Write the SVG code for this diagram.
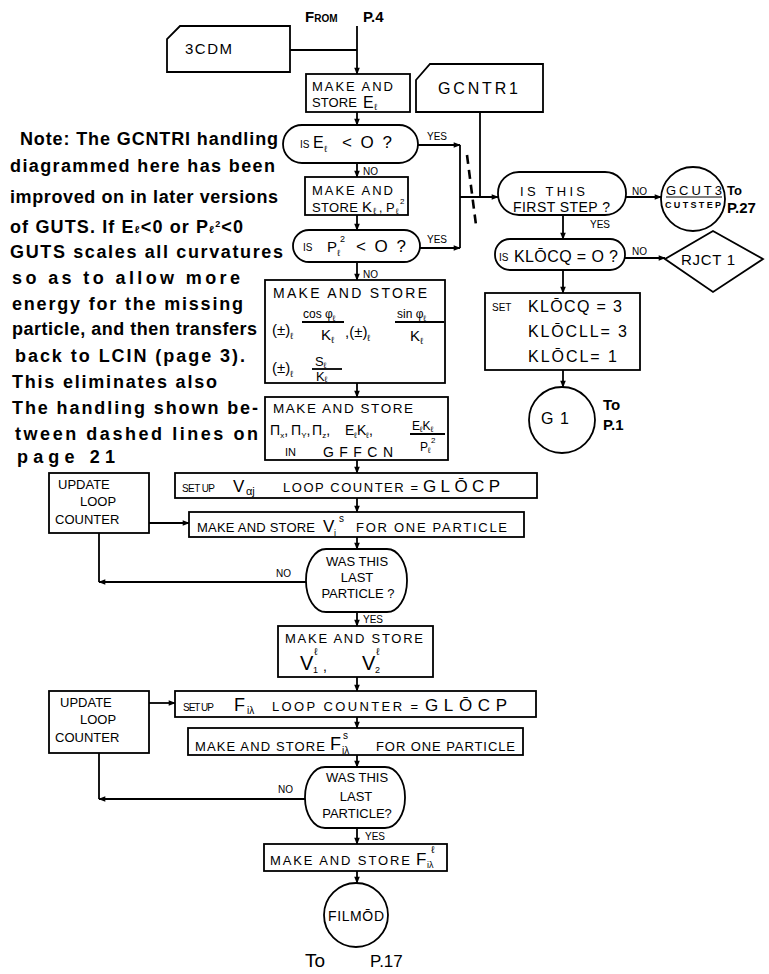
<svg xmlns="http://www.w3.org/2000/svg" width="769" height="974" viewBox="0 0 769 974">
<defs>
<marker id="ah" viewBox="0 0 10 10" refX="9" refY="5" markerWidth="8" markerHeight="7" markerUnits="userSpaceOnUse" orient="auto"><path d="M0,1 L10,5 L0,9 Z" fill="#000"/></marker>
<style>
.ln{fill:none;stroke:#000;stroke-width:1.8}
.bx{fill:#fff;stroke:#000;stroke-width:1.8}
.dash{fill:none;stroke:#000;stroke-width:2.6;stroke-dasharray:9 6}
text{font-family:"Liberation Sans",Arial,sans-serif;fill:#000}
.s{font-size:10px}
.m{font-size:13px}
.note{font-family:"Liberation Sans",Arial,sans-serif;font-weight:bold;font-size:18px}
.lab{font-size:10px}
</style>
</defs>
<rect width="769" height="974" fill="#fff"/>

<g id="connectors">
<line class="ln" x1="357" y1="26" x2="357" y2="74" marker-end="url(#ah)"/>
<line class="ln" x1="290" y1="50" x2="357" y2="50"/>
<line class="ln" x1="357" y1="112" x2="357" y2="125" marker-end="url(#ah)"/>
<line class="ln" x1="357" y1="163" x2="357" y2="177" marker-end="url(#ah)"/>
<line class="ln" x1="357" y1="215" x2="357" y2="230" marker-end="url(#ah)"/>
<line class="ln" x1="357" y1="262" x2="357" y2="280" marker-end="url(#ah)"/>
<line class="ln" x1="357" y1="383" x2="357" y2="397" marker-end="url(#ah)"/>
<line class="ln" x1="357" y1="460" x2="357" y2="473" marker-end="url(#ah)"/>
<line class="ln" x1="357" y1="498" x2="357" y2="512" marker-end="url(#ah)"/>
<line class="ln" x1="357" y1="537" x2="357" y2="549" marker-end="url(#ah)"/>
<line class="ln" x1="149" y1="523" x2="189" y2="523" marker-end="url(#ah)"/>
<line class="ln" x1="306" y1="582" x2="99" y2="582" marker-end="url(#ah)"/>
<line class="ln" x1="99" y1="582" x2="99" y2="533"/>
<line class="ln" x1="357" y1="612" x2="357" y2="626" marker-end="url(#ah)"/>
<line class="ln" x1="357" y1="677" x2="357" y2="691" marker-end="url(#ah)"/>
<line class="ln" x1="149" y1="703" x2="175" y2="703" marker-end="url(#ah)"/>
<line class="ln" x1="357" y1="717" x2="357" y2="728" marker-end="url(#ah)"/>
<line class="ln" x1="357" y1="755" x2="357" y2="767" marker-end="url(#ah)"/>
<line class="ln" x1="305" y1="799" x2="99" y2="799" marker-end="url(#ah)"/>
<line class="ln" x1="99" y1="799" x2="99" y2="753"/>
<line class="ln" x1="357" y1="828" x2="357" y2="844" marker-end="url(#ah)"/>
<line class="ln" x1="357" y1="871" x2="357" y2="883" marker-end="url(#ah)"/>
<line class="ln" x1="418" y1="145" x2="460" y2="145" marker-end="url(#ah)"/>
<line class="ln" x1="460" y1="145" x2="460" y2="248"/>
<line class="ln" x1="420" y1="248" x2="460" y2="248" marker-end="url(#ah)"/>
<line class="ln" x1="460" y1="197" x2="498" y2="197" marker-end="url(#ah)"/>
<line class="ln" x1="480" y1="112" x2="480" y2="197"/>
<line class="dash" x1="467" y1="155" x2="476" y2="225"/>
<line class="ln" x1="626" y1="197" x2="661" y2="197" marker-end="url(#ah)"/>
<line class="ln" x1="563" y1="215" x2="563" y2="239" marker-end="url(#ah)"/>
<line class="ln" x1="625" y1="258" x2="665" y2="258" marker-end="url(#ah)"/>
<line class="ln" x1="563" y1="270" x2="563" y2="293" marker-end="url(#ah)"/>
<line class="ln" x1="563" y1="370" x2="563" y2="387" marker-end="url(#ah)"/>
<text class="lab" x="363" y="175">NO</text>
<text class="lab" x="363" y="278">NO</text>
<text class="lab" x="427" y="140">YES</text>
<text class="lab" x="427" y="243">YES</text>
<text class="lab" x="632" y="195">NO</text>
<text class="lab" x="590" y="228">YES</text>
<text class="lab" x="632" y="255">NO</text>
<text class="lab" x="276" y="577">NO</text>
<text class="lab" x="363" y="623">YES</text>
<text class="lab" x="278" y="793">NO</text>
<text class="lab" x="365" y="840">YES</text>
</g>

<g id="from-p4">
<text x="305" y="22" font-weight="bold"><tspan font-size="15">F</tspan><tspan font-size="10">ROM</tspan></text>
<text x="363" y="22" font-size="15" font-weight="bold">P.4</text>
</g>

<g id="n-3cdm">
<path class="bx" d="M180,26 H290 V72 H167 V39 Z"/>
<text x="185" y="54" font-size="15" textLength="47">3CDM</text>
</g>

<g id="n-store-e">
<rect class="bx" x="306" y="74" width="104" height="38"/>
<text class="m" x="312" y="91" textLength="81">MAKE AND</text>
<text class="m" x="312" y="107" textLength="45">STORE</text>
<text x="363" y="108" font-size="16">E</text>
<text x="374" y="110" font-size="9">ℓ</text>
</g>

<g id="n-gcntr1">
<path class="bx" d="M430,64 H543 V112 H416 V80 Z"/>
<text x="438" y="94" font-size="16" textLength="80">GCNTR1</text>
</g>

<g id="n-is-e">
<rect class="bx" x="283" y="125" width="135" height="38" rx="19"/>
<text class="s" x="300" y="148">IS</text>
<text x="313" y="148" font-size="16">E</text>
<text x="324" y="152" font-size="9">ℓ</text>
<text x="342" y="148" font-size="17" textLength="50">&lt; O ?</text>
</g>

<g id="n-store-k">
<rect class="bx" x="305" y="177" width="103" height="38"/>
<text class="m" x="312" y="195" textLength="81">MAKE AND</text>
<text class="m" x="312" y="212" textLength="46">STORE</text>
<text x="362" y="212" font-size="15">K</text>
<text x="373" y="214" font-size="9">ℓ</text>
<text x="379" y="212" font-size="12">,</text>
<text x="386" y="212" font-size="13">P</text>
<text x="396" y="214" font-size="8">ℓ</text>
<text x="400" y="204" font-size="8">2</text>
</g>

<g id="n-is-p">
<rect class="bx" x="293" y="230" width="127" height="32" rx="16"/>
<text class="s" x="303" y="251">IS</text>
<text x="327" y="252" font-size="15">P</text>
<text x="337" y="256" font-size="9">ℓ</text>
<text x="340" y="242" font-size="9">2</text>
<text x="356" y="252" font-size="17" textLength="50">&lt; O ?</text>
</g>

<g id="n-store-trig">
<rect class="bx" x="265" y="280" width="180" height="103"/>
<text x="273" y="298" font-size="14" textLength="154">MAKE AND STORE</text>
<text x="272" y="335" font-size="15">(±)</text>
<text x="290" y="339" font-size="9">ℓ</text>
<text x="303" y="318" font-size="12">cos φ<tspan font-size="8" dy="3">ℓ</tspan></text>
<line class="ln" x1="302" y1="322" x2="344" y2="322" stroke-width="1.2"/>
<text x="321" y="340" font-size="15">K<tspan font-size="9" dy="3">ℓ</tspan></text>
<text x="345" y="337" font-size="15">,(±)</text>
<text x="367" y="341" font-size="9">ℓ</text>
<text x="397" y="318" font-size="12">sin φ<tspan font-size="8" dy="3">ℓ</tspan></text>
<line class="ln" x1="395" y1="322" x2="444" y2="322" stroke-width="1.2"/>
<text x="410" y="341" font-size="15">K<tspan font-size="9" dy="3">ℓ</tspan></text>
<text x="272" y="373" font-size="15">(±)</text>
<text x="290" y="377" font-size="9">ℓ</text>
<text x="315" y="366" font-size="13">S<tspan font-size="8" dy="2">ℓ</tspan></text>
<line class="ln" x1="312" y1="369" x2="342" y2="369" stroke-width="1.2"/>
<text x="316" y="381" font-size="13">K<tspan font-size="8" dy="1">ℓ</tspan></text>
</g>

<g id="n-store-pi">
<rect class="bx" x="265" y="397" width="183" height="63"/>
<text x="273" y="413" font-size="13.5" textLength="140">MAKE AND STORE</text>
<text x="270" y="435" font-size="14">Π<tspan font-size="8" dy="3">x</tspan><tspan dy="-3">,</tspan></text>
<text x="291" y="435" font-size="14">Π<tspan font-size="8" dy="3">Y</tspan><tspan dy="-3">,</tspan></text>
<text x="312" y="435" font-size="14">Π<tspan font-size="8" dy="3">z</tspan><tspan dy="-3">,</tspan></text>
<text x="345" y="435" font-size="14">E<tspan font-size="8" dy="3">ℓ</tspan><tspan dy="-3">K</tspan><tspan font-size="8" dy="3">ℓ</tspan><tspan dy="-3">,</tspan></text>
<text x="285" y="456" font-size="11">IN</text>
<text x="323" y="457" font-size="14" textLength="70">GFFCN</text>
<text x="412" y="430" font-size="12">E<tspan font-size="8" dy="2">ℓ</tspan><tspan dy="-2">K</tspan><tspan font-size="8" dy="2">ℓ</tspan></text>
<line class="ln" x1="410" y1="434" x2="445" y2="434" stroke-width="1.2"/>
<text x="420" y="451" font-size="12">P<tspan font-size="8" dy="2">ℓ</tspan></text>
<text x="431" y="443" font-size="8">2</text>
</g>

<g id="n-setup-v">
<rect class="bx" x="175" y="473" width="362" height="25"/>
<text class="s" x="182" y="492" textLength="33">SET UP</text>
<text x="233" y="492" font-size="17">V</text>
<text x="246" y="495" font-size="11">αj</text>
<text class="m" x="283" y="492" textLength="135">LOOP COUNTER =</text>
<text x="423" y="492" font-size="17" textLength="77">GLŌCP</text>
</g>

<g id="n-update-1">
<rect class="bx" x="49" y="473" width="100" height="60"/>
<text class="m" x="58" y="489">UPDATE</text>
<text class="m" x="80" y="506">LOOP</text>
<text class="m" x="55" y="524">COUNTER</text>
</g>

<g id="n-store-vs">
<rect class="bx" x="189" y="512" width="335" height="25"/>
<text class="m" x="197" y="532" textLength="118">MAKE AND STORE</text>
<text x="323" y="532" font-size="17">V</text>
<text x="334" y="536" font-size="9">i</text>
<text x="339" y="522" font-size="10">s</text>
<text class="m" x="356" y="532" textLength="151">FOR ONE PARTICLE</text>
</g>

<g id="n-last-1">
<rect class="bx" x="306" y="549" width="101" height="63" rx="20" ry="31"/>
<text class="m" x="357" y="566" text-anchor="middle">WAS THIS</text>
<text class="m" x="357" y="582" text-anchor="middle">LAST</text>
<text class="m" x="358" y="598" text-anchor="middle">PARTICLE ?</text>
</g>

<g id="n-store-vl">
<rect class="bx" x="278" y="626" width="155" height="51"/>
<text class="m" x="285" y="643" textLength="138">MAKE AND STORE</text>
<text x="300" y="670" font-size="20">V</text>
<text x="313" y="673" font-size="9">1</text>
<text x="314" y="655" font-size="10">ℓ</text>
<text x="323" y="671" font-size="14">,</text>
<text x="362" y="670" font-size="20">V</text>
<text x="375" y="673" font-size="9">2</text>
<text x="376" y="655" font-size="10">ℓ</text>
</g>

<g id="n-setup-f">
<rect class="bx" x="175" y="691" width="361" height="26"/>
<text class="s" x="183" y="711" textLength="31">SET UP</text>
<text x="234" y="711" font-size="18">F</text>
<text x="247" y="714" font-size="10">iλ</text>
<text class="m" x="272" y="711" textLength="146">LOOP COUNTER =</text>
<text x="425" y="711" font-size="17" textLength="82">GLŌCP</text>
</g>

<g id="n-update-2">
<rect class="bx" x="49" y="691" width="100" height="62"/>
<text class="m" x="60" y="707">UPDATE</text>
<text class="m" x="80" y="724">LOOP</text>
<text class="m" x="55" y="742">COUNTER</text>
</g>

<g id="n-store-fs">
<rect class="bx" x="188" y="728" width="335" height="27"/>
<text class="m" x="195" y="751" textLength="130">MAKE AND STORE</text>
<text x="330" y="750" font-size="18">F</text>
<text x="342" y="754" font-size="10">iλ</text>
<text x="343" y="739" font-size="10">s</text>
<text class="m" x="376" y="751" textLength="139">FOR ONE PARTICLE</text>
</g>

<g id="n-last-2">
<rect class="bx" x="305" y="767" width="100" height="61" rx="20" ry="30"/>
<text class="m" x="357" y="782" text-anchor="middle">WAS THIS</text>
<text class="m" x="356" y="801" text-anchor="middle">LAST</text>
<text class="m" x="357" y="818" text-anchor="middle">PARTICLE?</text>
</g>

<g id="n-store-fl">
<rect class="bx" x="264" y="844" width="183" height="27"/>
<text class="m" x="270" y="865" textLength="140">MAKE AND STORE</text>
<text x="416" y="865" font-size="17">F</text>
<text x="427" y="868" font-size="9">iλ</text>
<text x="431" y="853" font-size="10">ℓ</text>
</g>

<g id="n-filmod">
<circle class="bx" cx="356" cy="915" r="32"/>
<text x="356" y="921" font-size="14" text-anchor="middle" textLength="56">FILMŌD</text>
<text x="305" y="967" font-size="19">To</text>
<text x="370" y="967" font-size="17">P.17</text>
</g>

<g id="n-first-step">
<rect class="bx" x="498" y="172" width="128" height="43" rx="21"/>
<text x="520" y="196" font-size="13" textLength="65">IS THIS</text>
<text x="513" y="212" font-size="14" textLength="97">FIRST STEP ?</text>
</g>

<g id="n-gcut3">
<circle class="bx" cx="693" cy="199" r="32"/>
<text x="666" y="195" font-size="13" textLength="56">GCUT3</text>
<line x1="666" y1="197" x2="722" y2="197" stroke="#000" stroke-width="1"/>
<text x="665" y="208" font-size="9" font-weight="bold" textLength="56">CUTSTEP</text>
<text x="727" y="195" font-size="13" font-weight="bold">To</text>
<text x="727" y="213" font-size="15" font-weight="bold">P.27</text>
</g>

<g id="n-klocq">
<rect class="bx" x="495" y="239" width="130" height="31" rx="15"/>
<text class="s" x="499" y="261">IS</text>
<text x="514" y="262" font-size="16" textLength="104">KLŌCQ = O ?</text>
</g>

<g id="n-rjct1">
<polygon class="bx" points="665,259 713,231 763,259 713,292"/>
<text x="681" y="265" font-size="15" textLength="54">RJCT 1</text>
</g>

<g id="n-set-kloc">
<rect class="bx" x="485" y="293" width="155" height="77"/>
<text class="s" x="492" y="311">SET</text>
<text x="528" y="312" font-size="16" textLength="94">KLŌCQ = 3</text>
<text x="528" y="337" font-size="16" textLength="99">KLŌCLL= 3</text>
<text x="528" y="362" font-size="16" textLength="89">KLŌCL= 1</text>
</g>

<g id="n-g1">
<circle class="bx" cx="562" cy="420" r="33"/>
<text x="541" y="424" font-size="16" textLength="28">G1</text>
<text x="603" y="410" font-size="15" font-weight="bold">To</text>
<text x="603" y="430" font-size="15" font-weight="bold">P.1</text>
</g>

<g id="note">
<text class="note" x="20" y="145" textLength="258">Note: The GCNTRI handling</text>
<text class="note" x="10" y="172" textLength="265">diagrammed here has been</text>
<text class="note" x="10" y="203" textLength="268">improved on in later versions</text>
<text class="note" x="10" y="233" textLength="233">of GUTS. If E<tspan font-size="10">ℓ</tspan>&lt;0 or P<tspan font-size="10">ℓ</tspan><tspan font-size="9" dy="-6">2</tspan><tspan dy="6">&lt;0</tspan></text>
<text class="note" x="10" y="258" textLength="273">GUTS scales all curvatures</text>
<text class="note" x="12" y="284" textLength="228">so as to allow more</text>
<text class="note" x="12" y="310" textLength="231">energy for the missing</text>
<text class="note" x="12" y="335" textLength="245">particle, and then transfers</text>
<text class="note" x="15" y="362" textLength="230">back to LCIN (page 3).</text>
<text class="note" x="12" y="388" textLength="205">This eliminates also</text>
<text class="note" x="12" y="414" textLength="246">The handling shown be-</text>
<text class="note" x="15" y="440" textLength="243">tween dashed lines on</text>
<text class="note" x="17" y="463" textLength="98">page 21</text>
</g>
</svg>
